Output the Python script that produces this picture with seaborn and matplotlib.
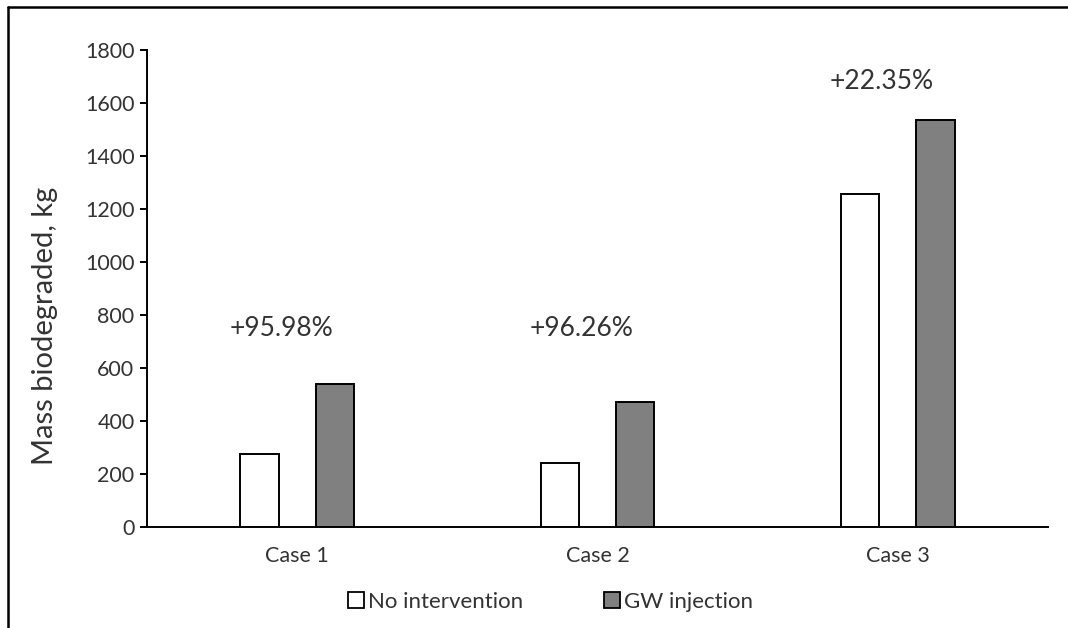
import matplotlib
matplotlib.use("Agg")
import matplotlib.pyplot as plt
from matplotlib.lines import Line2D
import seaborn as sns
import pandas as pd

# Data
cases = ["Case 1", "Case 2", "Case 3"]
no_intervention = [275, 240, 1255]
gw_injection = [539, 471, 1536]
increase_labels = ["+95.98%", "+96.26%", "+22.35%"]
label_heights = [750, 750, 1680]
series_names = ["No intervention", "GW injection"]
y_ticks = [0, 200, 400, 600, 800, 1000, 1200, 1400, 1600, 1800]

df = pd.DataFrame({
    "case": cases * 2,
    "mass": no_intervention + gw_injection,
    "scenario": [series_names[0]] * len(cases) + [series_names[1]] * len(cases),
})

sns.set_theme(style="white")
plt.rcParams["font.family"] = ["Lato", "DejaVu Sans"]

text_color = "#333333"
palette = {series_names[0]: "white", series_names[1]: "#808080"}

fig = plt.figure(figsize=(10.68, 6.28), dpi=100)
ax = fig.add_axes([147 / 1068, 1 - 527 / 628, (1048 - 147) / 1068, (527 - 50) / 628])

sns.barplot(
    data=df, x="case", y="mass", hue="scenario", hue_order=series_names,
    palette=palette, edgecolor="black", linewidth=1.4,
    width=0.5, gap=0.49, legend=False, ax=ax, errorbar=None,
)

ax.set_xlim(-0.5, 2.5)
ax.set_ylim(0, 1800)
ax.set_yticks(y_ticks)
ax.set_xlabel("")
ax.set_ylabel("")
for side in ["top", "right"]:
    ax.spines[side].set_visible(False)
for side in ["left", "bottom"]:
    ax.spines[side].set_color("black")
    ax.spines[side].set_linewidth(1.4)
ax.tick_params(axis="y", which="major", direction="out", length=5, width=1.4,
               color="black", labelsize=15.5, labelcolor=text_color, pad=4, left=True)
ax.tick_params(axis="x", length=0, labelsize=15.5, labelcolor=text_color, pad=14)
ax.grid(False)

# Percentage increase annotations
for i, (lab, h) in enumerate(zip(increase_labels, label_heights)):
    ax.text(i - 0.053, h, lab, ha="center", va="center", fontsize=19, color=text_color)

fig.text(45 / 1068, 1 - 326 / 628, "Mass biodegraded, kg", rotation=90,
         ha="center", va="center", fontsize=21, color=text_color)

handles = [
    Line2D([], [], marker="s", linestyle="none", markersize=11,
           markerfacecolor=palette[name], markeredgecolor="black", markeredgewidth=1.3)
    for name in series_names
]
fig.legend(handles, series_names, loc="center", bbox_to_anchor=(550 / 1068, 1 - 602 / 628),
           ncol=2, frameon=False, fontsize=16, handletextpad=0.15, columnspacing=3.57,
           handlelength=0.8, labelcolor=text_color)

# Outer frame (left and top edges)
fig.add_artist(Line2D([7.5 / 1068, 7.5 / 1068], [0, 1 - 6.5 / 628], color="black", lw=1.8,
                      transform=fig.transFigure))
fig.add_artist(Line2D([7.5 / 1068, 1], [1 - 6.5 / 628, 1 - 6.5 / 628], color="black", lw=1.8,
                      transform=fig.transFigure))

fig.savefig("out.png", dpi=100, facecolor="white")
